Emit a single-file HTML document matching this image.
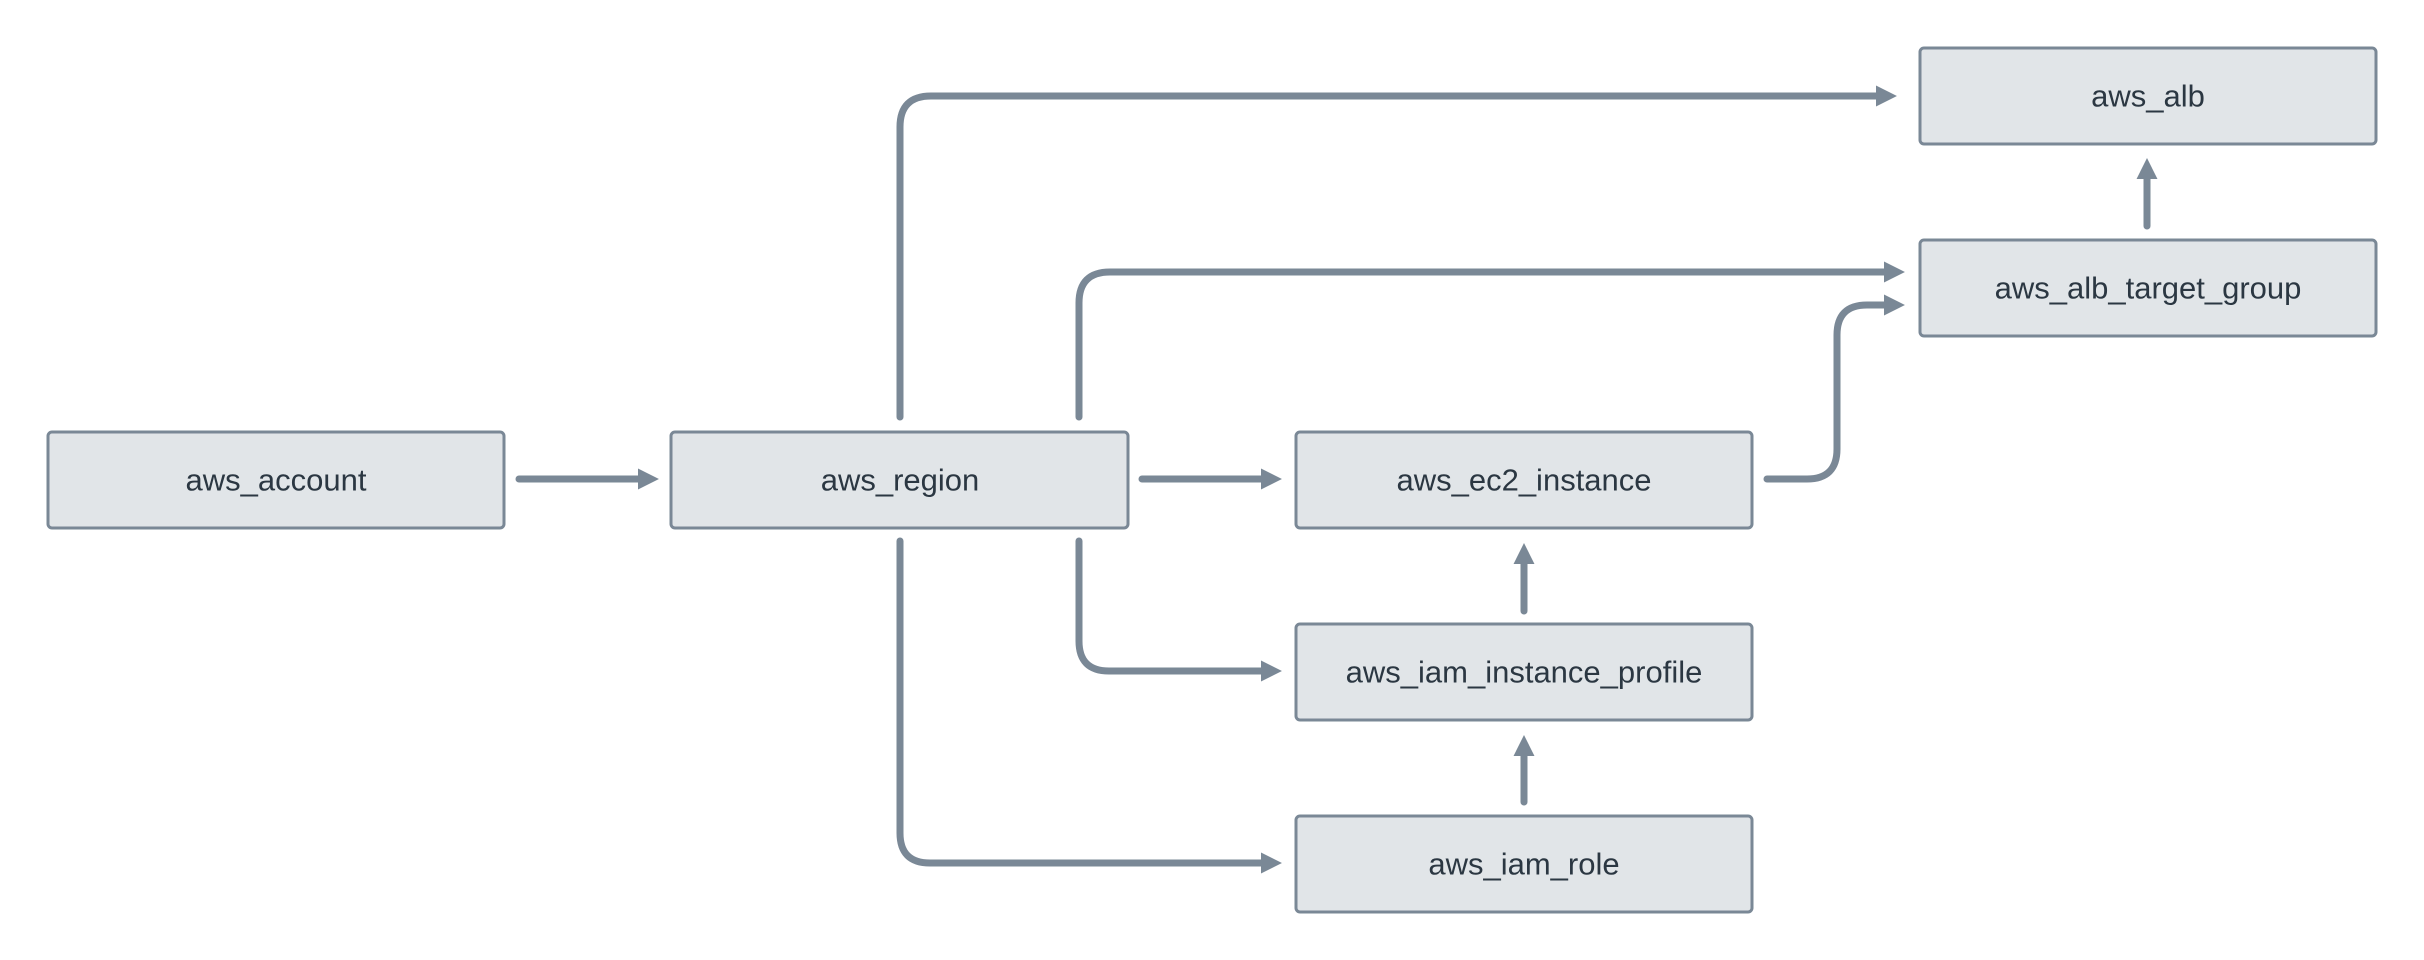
<!DOCTYPE html>
<html><head><meta charset="utf-8"><style>
html,body{margin:0;padding:0;background:#fff;width:2424px;height:960px;overflow:hidden}
svg text{font-family:"Liberation Sans",sans-serif;font-size:31px;fill:#2b3742;text-anchor:middle;dominant-baseline:central}
</style></head><body>
<svg width="2424" height="960" viewBox="0 0 2424 960" xmlns="http://www.w3.org/2000/svg">
<defs><marker id="a" viewBox="0 0 10 10" refX="0.5" refY="5" markerWidth="3" markerHeight="3.4" orient="auto" markerUnits="strokeWidth"><path d="M0,0 L10,5 L0,10 z" fill="#7a8896"/></marker></defs>
<g fill="none" stroke="#7a8896" stroke-width="7" stroke-linecap="round" marker-end="url(#a)">
<path d="M519,479 H639"/>
<path d="M1142,479 H1262"/>
<path d="M900,417 V127 Q900,96 931,96 H1877"/>
<path d="M1079,417 V303 Q1079,272 1110,272 H1885"/>
<path d="M1767,479 H1807 Q1837,479 1837,449 V335 Q1837,305 1867,305 H1885"/>
<path d="M2147,226 V178"/>
<path d="M1079,541 V641 Q1079,671 1109,671 H1262"/>
<path d="M900,541 V833 Q900,863 930,863 H1262"/>
<path d="M1524,611 V563"/>
<path d="M1524,802 V755"/>
</g>
<g fill="#e1e5e8" stroke="#7a8896" stroke-width="3">
<rect x="48" y="432" width="456" height="96" rx="4"/>
<rect x="671" y="432" width="457" height="96" rx="4"/>
<rect x="1296" y="432" width="456" height="96" rx="4"/>
<rect x="1296" y="624" width="456" height="96" rx="4"/>
<rect x="1296" y="816" width="456" height="96" rx="4"/>
<rect x="1920" y="48" width="456" height="96" rx="4"/>
<rect x="1920" y="240" width="456" height="96" rx="4"/>
</g>
<text x="276" y="480">aws_account</text>
<text x="900" y="480">aws_region</text>
<text x="1524" y="480">aws_ec2_instance</text>
<text x="1524" y="672">aws_iam_instance_profile</text>
<text x="1524" y="864">aws_iam_role</text>
<text x="2148" y="96">aws_alb</text>
<text x="2148" y="288">aws_alb_target_group</text>
</svg>
</body></html>
